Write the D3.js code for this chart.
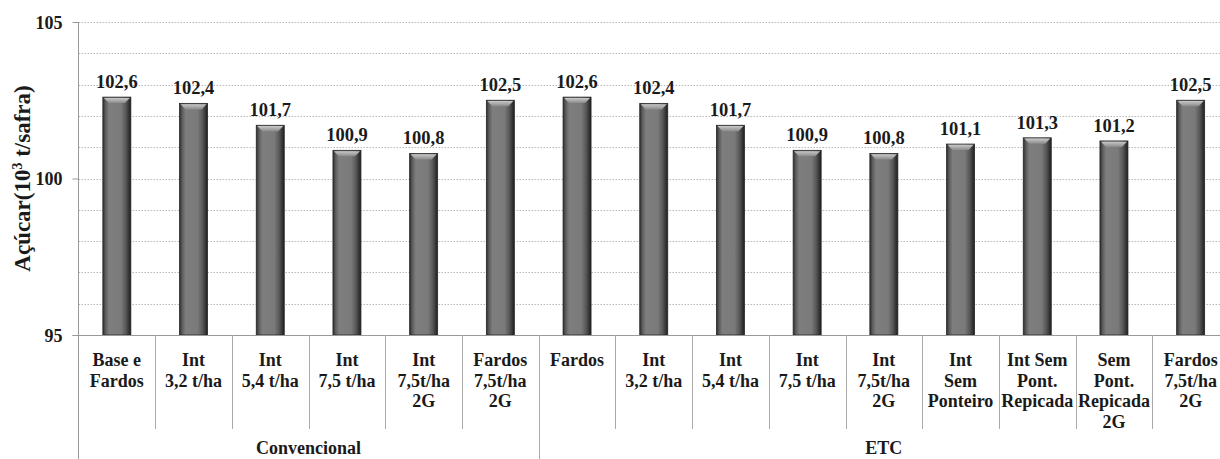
<!DOCTYPE html>
<html>
<head>
<meta charset="utf-8">
<script src="https://cdn.jsdelivr.net/npm/d3@7"></script>
<style>
  html, body { margin: 0; padding: 0; background: #fff; }
  svg { display: block; }
</style>
</head>
<body>
<svg id="chart" width="1220" height="459"></svg>
<script>
// Sugar production per scenario (10^3 t/safra)
const categories = [
  ["Base e", "Fardos"],
  ["Int", "3,2 t/ha"],
  ["Int", "5,4 t/ha"],
  ["Int", "7,5 t/ha"],
  ["Int", "7,5t/ha", "2G"],
  ["Fardos", "7,5t/ha", "2G"],
  ["Fardos"],
  ["Int", "3,2 t/ha"],
  ["Int", "5,4 t/ha"],
  ["Int", "7,5 t/ha"],
  ["Int", "7,5t/ha", "2G"],
  ["Int", "Sem", "Ponteiro"],
  ["Int Sem", "Pont.", "Repicada"],
  ["Sem", "Pont.", "Repicada", "2G"],
  ["Fardos", "7,5t/ha", "2G"]
];
const values = [102.6, 102.4, 101.7, 100.9, 100.8, 102.5,
                102.6, 102.4, 101.7, 100.9, 100.8, 101.1, 101.3, 101.2, 102.5];
const groups = ["Convencional", "ETC"];
const groupSizes = [6, 9];
const yTicks = [95, 100, 105];
const yGrid = [96, 97, 98, 99, 100, 101, 102, 103, 104, 105];

const FONT = "Liberation Serif";
const svg = d3.select("#chart").attr("font-family", FONT).attr("font-weight", "bold");
const plotLeft = 78.5, plotRight = 1229, plotTop = 22, plotBottom = 335;

const x = d3.scaleBand().domain(d3.range(values.length)).range([plotLeft, plotRight]).paddingInner(0).paddingOuter(0);
const y = d3.scaleLinear().domain([95, 105]).range([plotBottom, plotTop]);
const bw = 28;

// gradients for the bevelled bars
const defs = svg.append("defs");
const g1 = defs.append("linearGradient").attr("id", "barGrad").attr("x1", 0).attr("x2", 1).attr("y1", 0).attr("y2", 0);
[[0, "#2e2e2e"], [0.1, "#5e5e5e"], [0.22, "#7e7e7e"], [0.65, "#7a7a7a"], [0.82, "#585858"], [1, "#1e1e1e"]]
  .forEach(([o, c]) => g1.append("stop").attr("offset", o).attr("stop-color", c));
const g2 = defs.append("linearGradient").attr("id", "capGrad").attr("x1", 0).attr("x2", 0).attr("y1", 0).attr("y2", 1);
[[0, "#c8c8c8"], [1, "#8a8a8a"]].forEach(([o, c]) => g2.append("stop").attr("offset", o).attr("stop-color", c));

// dotted gridlines
svg.append("g").selectAll("line").data(yGrid).join("line")
  .attr("x1", plotLeft).attr("x2", 1220)
  .attr("y1", d => Math.round(y(d)) + 0.5).attr("y2", d => Math.round(y(d)) + 0.5)
  .attr("stroke", "#b8b8b8").attr("stroke-width", 1).attr("stroke-dasharray", "1.5,1.5");

// bars
const bars = svg.append("g");
bars.selectAll("rect").data(values).join("rect")
  .attr("x", (d, i) => x(i) + x.bandwidth() / 2 - bw / 2)
  .attr("width", bw)
  .attr("y", d => y(d))
  .attr("height", d => plotBottom - y(d))
  .attr("fill", "url(#barGrad)")
  .attr("stroke", "#262626").attr("stroke-width", 0.8);
// top bevel highlight
bars.selectAll("path").data(values).join("path")
  .attr("d", (d, i) => {
    const x0 = x(i) + x.bandwidth() / 2 - bw / 2, t = y(d);
    return `M${x0 + 1},${t + 0.8}L${x0 + bw - 1},${t + 0.8}L${x0 + bw - 6},${t + 6}L${x0 + 6},${t + 6}Z`;
  })
  .attr("fill", "url(#capGrad)");

// value labels
svg.append("g").selectAll("text").data(values).join("text")
  .attr("x", (d, i) => x(i) + x.bandwidth() / 2)
  .attr("y", d => y(d) - 9)
  .attr("text-anchor", "middle")
  .attr("font-family", FONT).attr("font-weight", "bold")
  .attr("font-size", 18.5)
  .attr("fill", "#1a1a1a")
  .text(d => d.toFixed(1).replace(".", ","));

// y axis
const yAxis = d3.axisLeft(y).tickValues(yTicks).tickSize(6).tickFormat(d => d);
const ya = svg.append("g").attr("transform", `translate(${plotLeft},0)`).call(yAxis)
  .attr("font-family", FONT).attr("font-weight", "bold");
ya.select(".domain").remove();
ya.selectAll(".tick line").attr("stroke", "#999");
ya.selectAll(".tick text").attr("font-family", FONT).attr("font-weight", "bold")
  .attr("font-size", 18).attr("fill", "#1a1a1a").attr("x", -16).attr("dy", "0.35em");
svg.append("line").attr("x1", plotLeft).attr("x2", plotLeft).attr("y1", plotTop).attr("y2", 459)
  .attr("stroke", "#999").attr("stroke-width", 1);

// x axis baseline
svg.append("line").attr("x1", plotLeft - 6).attr("x2", 1220).attr("y1", plotBottom + 0.5).attr("y2", plotBottom + 0.5)
  .attr("stroke", "#999").attr("stroke-width", 1);

// category separators (group boundaries run to the bottom)
const boundaries = d3.range(1, values.length);
const groupEnds = d3.cumsum(groupSizes).slice(0, -1);
svg.append("g").selectAll("line").data(boundaries).join("line")
  .attr("x1", i => Math.round(x(i)) + 0.5).attr("x2", i => Math.round(x(i)) + 0.5)
  .attr("y1", plotBottom).attr("y2", i => groupEnds.includes(i) ? 459 : 429)
  .attr("stroke", "#aaa").attr("stroke-width", 1);

// category labels
const cat = svg.append("g").selectAll("text").data(categories).join("text")
  .attr("x", (d, i) => x(i) + x.bandwidth() / 2)
  .attr("y", 366)
  .attr("text-anchor", "middle")
  .attr("font-family", FONT).attr("font-weight", "bold")
  .attr("font-size", 18)
  .attr("fill", "#1a1a1a");
cat.selectAll("tspan").data(d => d).join("tspan")
  .attr("x", function () { return this.parentNode.getAttribute("x"); })
  .attr("dy", (d, j) => j === 0 ? 0 : 20.5)
  .text(d => d);

// group labels
let start = 0;
groups.forEach((gname, k) => {
  const end = start + groupSizes[k];
  const cx = (x(start) + Math.min(x(end - 1) + x.bandwidth(), plotRight)) / 2;
  svg.append("text").attr("x", cx).attr("y", 454).attr("text-anchor", "middle")
    .attr("font-family", FONT).attr("font-weight", "bold")
    .attr("font-size", 18).attr("fill", "#1a1a1a").text(gname);
  start = end;
});

// y axis title
const yt = svg.append("text").attr("transform", `translate(30,${y(100)}) rotate(-90)`)
  .attr("text-anchor", "middle").attr("font-family", FONT).attr("font-weight", "bold")
  .attr("font-size", 23).attr("fill", "#1a1a1a");
yt.append("tspan").text("Açúcar(10");
yt.append("tspan").attr("font-size", 14).attr("dy", -8).text("3");
yt.append("tspan").attr("dy", 8).text(" t/safra)");
</script>
</body>
</html>
